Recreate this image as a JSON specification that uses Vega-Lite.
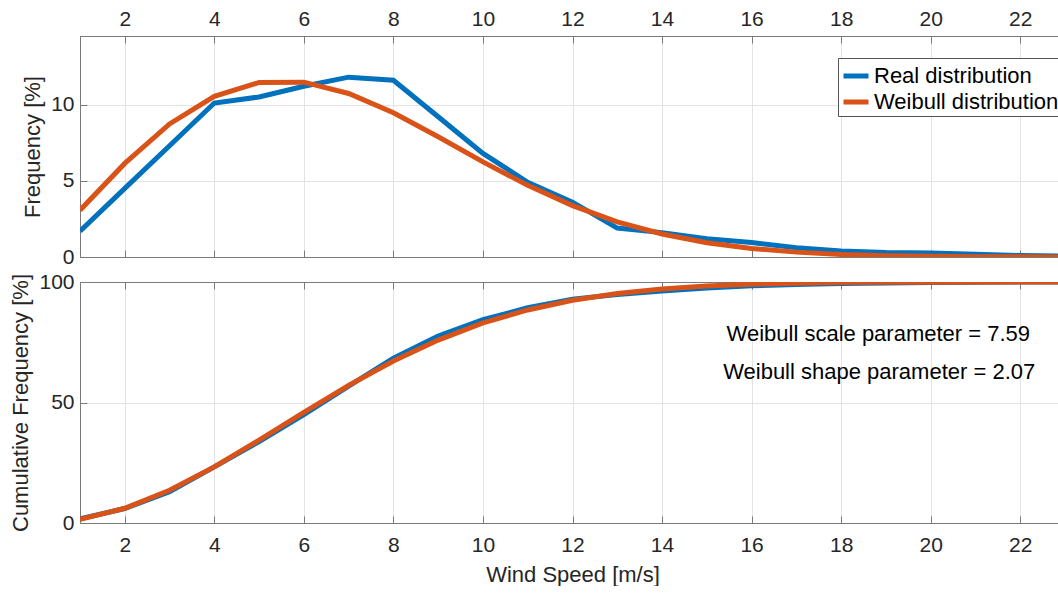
{
  "$schema": "https://vega.github.io/schema/vega-lite/v6.json",
  "padding": {"left": 9, "top": 7, "right": 0, "bottom": 0},
  "spacing": 2,
  "config": {
    "font": "Liberation Sans",
    "view": {"stroke": "#7a7a7a", "strokeWidth": 1},
    "axis": {
      "labelFont": "Liberation Sans", "titleFont": "Liberation Sans",
      "labelFontSize": 21, "titleFontSize": 22,
      "labelColor": "#262626", "titleColor": "#262626",
      "titleFontWeight": "normal",
      "domainColor": "#7a7a7a", "tickColor": "#7a7a7a",
      "tickSize": -7, "labelPadding": 13,
      "gridColor": "#e3e3e3", "grid": true
    },
    "legend": {"labelFont": "Liberation Sans"}
  },
  "datasets": {
    "wind": [
      {"speed": 1, "series": "Real distribution", "freq": 1.7, "cum": 1.7},
      {"speed": 2, "series": "Real distribution", "freq": 4.5, "cum": 6.0},
      {"speed": 3, "series": "Real distribution", "freq": 7.3, "cum": 13.0},
      {"speed": 4, "series": "Real distribution", "freq": 10.1, "cum": 23.3},
      {"speed": 5, "series": "Real distribution", "freq": 10.5, "cum": 33.8},
      {"speed": 6, "series": "Real distribution", "freq": 11.2, "cum": 45.0},
      {"speed": 7, "series": "Real distribution", "freq": 11.8, "cum": 56.8},
      {"speed": 8, "series": "Real distribution", "freq": 11.6, "cum": 68.4},
      {"speed": 9, "series": "Real distribution", "freq": 9.2, "cum": 77.6},
      {"speed": 10, "series": "Real distribution", "freq": 6.8, "cum": 84.4},
      {"speed": 11, "series": "Real distribution", "freq": 4.9, "cum": 89.3},
      {"speed": 12, "series": "Real distribution", "freq": 3.6, "cum": 92.9},
      {"speed": 13, "series": "Real distribution", "freq": 1.9, "cum": 94.8},
      {"speed": 14, "series": "Real distribution", "freq": 1.6, "cum": 96.3},
      {"speed": 15, "series": "Real distribution", "freq": 1.2, "cum": 97.5},
      {"speed": 16, "series": "Real distribution", "freq": 0.95, "cum": 98.4},
      {"speed": 17, "series": "Real distribution", "freq": 0.6, "cum": 99.0},
      {"speed": 18, "series": "Real distribution", "freq": 0.4, "cum": 99.4},
      {"speed": 19, "series": "Real distribution", "freq": 0.3, "cum": 99.6},
      {"speed": 20, "series": "Real distribution", "freq": 0.27, "cum": 99.8},
      {"speed": 21, "series": "Real distribution", "freq": 0.18, "cum": 99.9},
      {"speed": 22, "series": "Real distribution", "freq": 0.1, "cum": 100},
      {"speed": 23, "series": "Real distribution", "freq": 0.05, "cum": 100},
      {"speed": 1, "series": "Weibull distribution", "freq": 3.07, "cum": 1.5},
      {"speed": 2, "series": "Weibull distribution", "freq": 6.14, "cum": 6.1},
      {"speed": 3, "series": "Weibull distribution", "freq": 8.73, "cum": 13.6},
      {"speed": 4, "series": "Weibull distribution", "freq": 10.54, "cum": 23.3},
      {"speed": 5, "series": "Weibull distribution", "freq": 11.45, "cum": 34.4},
      {"speed": 6, "series": "Weibull distribution", "freq": 11.47, "cum": 45.9},
      {"speed": 7, "series": "Weibull distribution", "freq": 10.73, "cum": 57.1},
      {"speed": 8, "series": "Weibull distribution", "freq": 9.46, "cum": 67.2},
      {"speed": 9, "series": "Weibull distribution", "freq": 7.89, "cum": 75.9},
      {"speed": 10, "series": "Weibull distribution", "freq": 6.24, "cum": 83.0},
      {"speed": 11, "series": "Weibull distribution", "freq": 4.70, "cum": 88.4},
      {"speed": 12, "series": "Weibull distribution", "freq": 3.37, "cum": 92.4},
      {"speed": 13, "series": "Weibull distribution", "freq": 2.31, "cum": 95.2},
      {"speed": 14, "series": "Weibull distribution", "freq": 1.51, "cum": 97.1},
      {"speed": 15, "series": "Weibull distribution", "freq": 0.94, "cum": 98.3},
      {"speed": 16, "series": "Weibull distribution", "freq": 0.56, "cum": 99.1},
      {"speed": 17, "series": "Weibull distribution", "freq": 0.32, "cum": 99.5},
      {"speed": 18, "series": "Weibull distribution", "freq": 0.17, "cum": 99.75},
      {"speed": 19, "series": "Weibull distribution", "freq": 0.09, "cum": 99.87},
      {"speed": 20, "series": "Weibull distribution", "freq": 0.05, "cum": 99.94},
      {"speed": 21, "series": "Weibull distribution", "freq": 0.02, "cum": 99.97},
      {"speed": 22, "series": "Weibull distribution", "freq": 0.01, "cum": 99.99},
      {"speed": 23, "series": "Weibull distribution", "freq": 0.005, "cum": 100}
    ],
    "notes": [
      {"x": 18.83, "y": 78.4, "label": "Weibull scale parameter = 7.59"},
      {"x": 18.85, "y": 62.6, "label": "Weibull shape parameter = 2.07"}
    ]
  },
  "vconcat": [
    {
      "width": 985,
      "height": 221,
      "data": {"name": "wind"},
      "layer": [
        {
          "mark": {"type": "line", "strokeWidth": 5, "clip": true},
          "encoding": {
            "x": {"field": "speed", "type": "quantitative",
                  "scale": {"domain": [1, 23], "nice": false, "zero": false},
                  "axis": {"orient": "top", "values": [2,4,6,8,10,12,14,16,18,20,22], "title": null, "labelPadding": 14}},
            "y": {"field": "freq", "type": "quantitative",
                  "scale": {"domain": [0, 14.5], "nice": false},
                  "axis": {"values": [0, 5, 10], "title": "Frequency [%]", "titlePadding": 6}},
            "color": {"field": "series", "type": "nominal",
                      "scale": {"domain": ["Real distribution", "Weibull distribution"], "range": ["#0072BD", "#D95319"]},
                      "legend": {"title": null, "orient": "none", "legendX": 758, "legendY": 22,
                                 "symbolType": "stroke", "symbolSize": 625, "symbolStrokeWidth": 5,
                                 "labelFontSize": 22, "labelColor": "#000000", "labelOffset": 3, "labelLimit": 400,
                                 "strokeColor": "#555555", "fillColor": "#ffffff", "padding": 3, "rowPadding": 0}}
          }
        },
        {
          "mark": {"type": "line", "opacity": 0},
          "encoding": {
            "x": {"field": "speed", "type": "quantitative",
                  "axis": {"orient": "bottom", "values": [2,4,6,8,10,12,14,16,18,20,22], "labels": false, "grid": false, "title": null}},
            "y": {"field": "freq", "type": "quantitative"}
          }
        }
      ],
      "resolve": {"axis": {"x": "independent"}}
    },
    {
      "width": 985,
      "height": 241,
      "layer": [
        {
          "data": {"name": "wind"},
          "mark": {"type": "line", "strokeWidth": 5, "clip": true},
          "encoding": {
            "x": {"field": "speed", "type": "quantitative",
                  "scale": {"domain": [1, 23], "nice": false, "zero": false},
                  "axis": {"orient": "bottom", "values": [2,4,6,8,10,12,14,16,18,20,22], "title": "Wind Speed [m/s]", "titlePadding": 9, "labelPadding": 18}},
            "y": {"field": "cum", "type": "quantitative",
                  "scale": {"domain": [0, 100], "nice": false},
                  "axis": {"values": [0, 50, 100], "title": "Cumulative Frequency [%]", "titlePadding": 6}},
            "color": {"field": "series", "type": "nominal",
                      "scale": {"domain": ["Real distribution", "Weibull distribution"], "range": ["#0072BD", "#D95319"]},
                      "legend": null}
          }
        },
        {
          "data": {"name": "wind"},
          "mark": {"type": "line", "opacity": 0},
          "encoding": {
            "x": {"field": "speed", "type": "quantitative",
                  "axis": {"orient": "top", "values": [2,4,6,8,10,12,14,16,18,20,22], "labels": false, "grid": false, "title": null}},
            "y": {"field": "cum", "type": "quantitative"}
          }
        },
        {
          "data": {"name": "notes"},
          "mark": {"type": "text", "fontSize": 22, "font": "Liberation Sans", "color": "#000000", "align": "center", "baseline": "middle"},
          "encoding": {
            "x": {"field": "x", "type": "quantitative", "axis": null},
            "y": {"field": "y", "type": "quantitative"},
            "text": {"field": "label"}
          }
        }
      ],
      "resolve": {"axis": {"x": "independent"}}
    }
  ]
}
